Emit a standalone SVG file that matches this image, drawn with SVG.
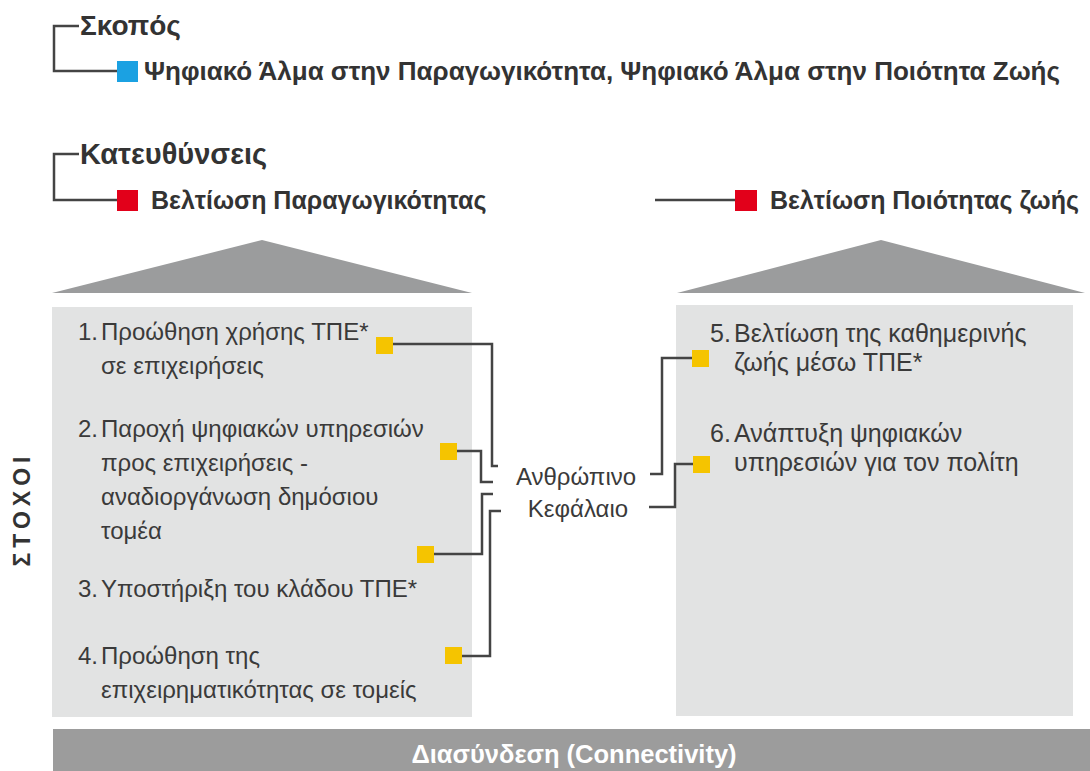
<svg xmlns="http://www.w3.org/2000/svg" width="1090" height="771" viewBox="0 0 1090 771">
<style>
.title{font-family:"Liberation Sans",Arial,sans-serif;font-weight:bold;fill:#333;}
.h{font-size:28px;}
.sub{font-size:25px;}
.body{font-family:"Liberation Sans",Arial,sans-serif;font-size:24px;fill:#3a3a3a;}
.rb{font-size:25px;}
.panel{fill:#e2e3e3;}
.roof{fill:#9b9c9d;}
.con{fill:none;stroke:#444;stroke-width:2.5;}
.yel{fill:#f5c400;}
.red{fill:#e2001a;}
</style>
<rect width="1090" height="771" fill="#fff"/>

<g id="goal">
  <path class="con" d="M79,26 H54 V71 H117"/>
  <text class="title h" x="80" y="35">Σκοπός</text>
  <rect x="117" y="61" width="21" height="21" fill="#1ba1e2"/>
  <text class="title" font-size="26" x="144" y="80">Ψηφιακό Άλμα στην Παραγωγικότητα, Ψηφιακό Άλμα στην Ποιότητα Ζωής</text>
</g>

<g id="directions">
  <path class="con" d="M79,154 H54 V200 H117"/>
  <text class="title" font-size="29" x="80" y="164">Κατευθύνσεις</text>
</g>

<g id="dir-productivity">
  <rect class="red" x="117" y="190" width="21" height="21"/>
  <text class="title sub" x="151" y="209">Βελτίωση Παραγωγικότητας</text>
</g>

<g id="dir-quality">
  <path class="con" d="M655,200 H735"/>
  <rect class="red" x="735" y="190" width="22" height="21"/>
  <text class="title sub" x="770" y="209">Βελτίωση Ποιότητας ζωής</text>
</g>

<g id="goals-label">
  <text class="title" font-size="23" letter-spacing="5" text-anchor="middle" transform="translate(30,509) rotate(-90)">ΣΤΟΧΟΙ</text>
</g>

<g id="left-pillar">
  <polygon class="roof" points="52,293 262,240 472,293"/>
  <rect class="panel" x="52" y="307" width="420" height="410"/>
  <g id="goal1">
    <text class="body" x="78" y="340">1.</text>
    <text class="body" x="101" y="340">Προώθηση χρήσης ΤΠΕ*</text>
    <text class="body" x="101" y="374">σε επιχειρήσεις</text>
    <rect class="yel" x="376" y="337" width="17" height="17"/>
  </g>
  <g id="goal2">
    <text class="body" x="78" y="437">2.</text>
    <text class="body" x="101" y="437">Παροχή ψηφιακών υπηρεσιών</text>
    <text class="body" x="101" y="471">προς επιχειρήσεις -</text>
    <text class="body" x="101" y="505">αναδιοργάνωση δημόσιου</text>
    <text class="body" x="101" y="539">τομέα</text>
    <rect class="yel" x="440" y="443" width="17" height="17"/>
  </g>
  <g id="goal3">
    <text class="body" x="78" y="597">3.</text>
    <text class="body" x="101" y="597">Υποστήριξη του κλάδου ΤΠΕ*</text>
    <rect class="yel" x="417" y="546" width="17" height="17"/>
  </g>
  <g id="goal4">
    <text class="body" x="78" y="664">4.</text>
    <text class="body" x="101" y="664">Προώθηση της</text>
    <text class="body" x="101" y="698">επιχειρηματικότητας σε τομείς</text>
    <rect class="yel" x="445" y="647" width="17" height="17"/>
  </g>
</g>

<g id="right-pillar">
  <polygon class="roof" points="677,293 881,240 1085,293"/>
  <rect class="panel" x="676" y="305" width="397" height="411"/>
  <g id="goal5">
    <text class="body rb" x="710" y="342">5.</text>
    <text class="body rb" x="734" y="342">Βελτίωση της καθημερινής</text>
    <text class="body rb" x="734" y="371">ζωής μέσω ΤΠΕ*</text>
    <rect class="yel" x="692" y="350" width="17" height="17"/>
  </g>
  <g id="goal6">
    <text class="body rb" x="710" y="442">6.</text>
    <text class="body rb" x="734" y="442">Ανάπτυξη ψηφιακών</text>
    <text class="body rb" x="734" y="471">υπηρεσιών για τον πολίτη</text>
    <rect class="yel" x="693" y="456" width="17" height="17"/>
  </g>
</g>

<g id="human-capital">
  <text class="body" x="576" y="485" text-anchor="middle">Ανθρώπινο</text>
  <text class="body" x="578" y="517" text-anchor="middle">Κεφάλαιο</text>
</g>

<g id="connectivity">
  <rect x="53" y="729" width="1037" height="42" fill="#9c9c9c"/>
  <text x="574" y="763" text-anchor="middle" font-family="Liberation Sans, Arial, sans-serif" font-weight="bold" font-size="25.5" fill="#fff">Διασύνδεση (Connectivity)</text>
</g>

<g id="connectors">
  <path class="con" d="M393,344 H492 V466 H498"/>
  <path class="con" d="M457,451 H481 V482 H493"/>
  <path class="con" d="M434,554 H482 V494 H493"/>
  <path class="con" d="M462,656 H490 V511 H501"/>
  <path class="con" d="M650,474 H662 V358 H692"/>
  <path class="con" d="M649,507 H675 V464 H693"/>
</g>
</svg>
